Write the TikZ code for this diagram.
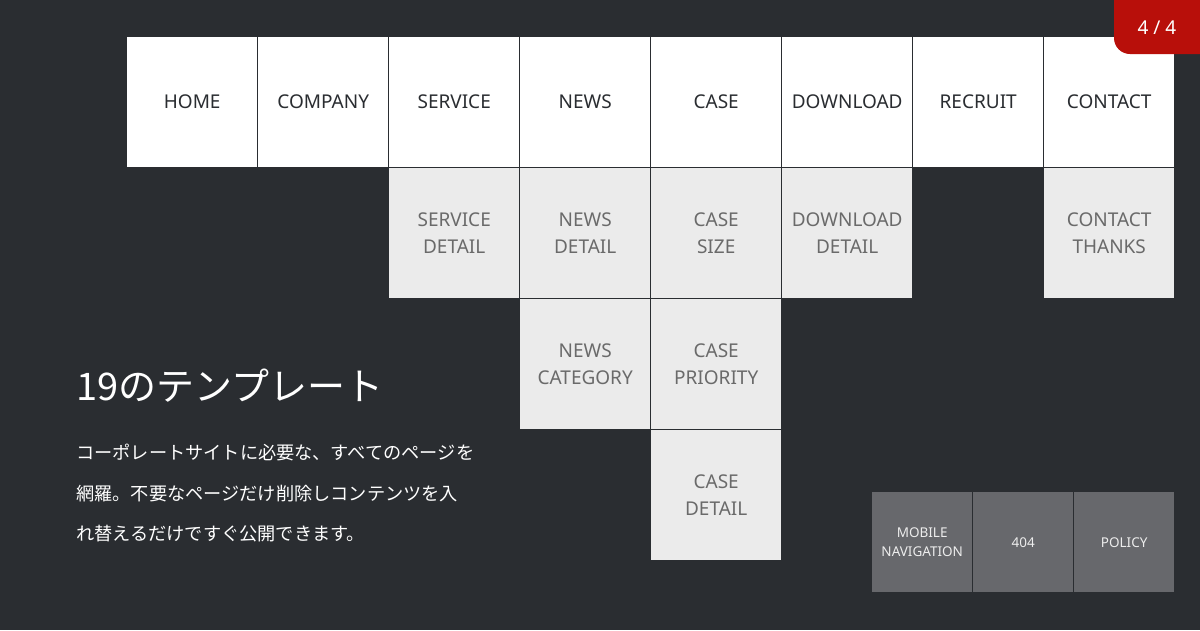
\documentclass[tikz,border=0pt]{standalone}
\usepackage{fontspec}
\setmainfont{Noto Sans}
\newfontfamily\jpfont{Noto Sans CJK JP}
\definecolor{bgdark}{HTML}{2A2D31}
\definecolor{cellgray}{HTML}{EBEBEB}
\definecolor{graytext}{HTML}{6A6A6A}
\definecolor{darkcell}{HTML}{67686C}
\definecolor{badgered}{HTML}{B80F0A}
\definecolor{darktext}{HTML}{2A2D31}
\tikzset{
  topcell/.style={fill=white, anchor=north west, minimum width=130pt, minimum height=130pt, inner sep=0pt, align=center, text=darktext, font=\fontsize{19}{27}\selectfont},
  subcell/.style={fill=cellgray, anchor=north west, minimum width=130pt, minimum height=130pt, inner sep=0pt, align=center, text=graytext, font=\fontsize{19}{27}\selectfont},
  smallcell/.style={fill=darkcell, anchor=north west, minimum width=100pt, minimum height=100pt, inner sep=0pt, align=center, text=white!93!black, font=\fontsize{13.5}{19}\selectfont},
  jpline/.style={anchor=base west, inner sep=0pt, text=white, font=\jpfont\fontsize{18.2}{20}\selectfont}
}
\begin{document}
\begin{tikzpicture}[x=1pt,y=-1pt]
\useasboundingbox (0,0) rectangle (1200,630);
\fill[bgdark] (0,0) rectangle (1200,630);
% top row
\node[topcell] (home) at (127,37) {HOME};
\node[topcell] (company) at (258,37) {COMPANY};
\node[topcell] (service) at (389,37) {SERVICE};
\node[topcell] (news) at (520,37) {NEWS};
\node[topcell] (case) at (651,37) {CASE};
\node[topcell] (download) at (782,37) {DOWNLOAD};
\node[topcell] (recruit) at (913,37) {RECRUIT};
\node[topcell] (contact) at (1044,37) {CONTACT};
% second row
\node[subcell] (servicedetail) at (389,168) {SERVICE\\DETAIL};
\node[subcell] (newsdetail) at (520,168) {NEWS\\DETAIL};
\node[subcell] (casesize) at (651,168) {CASE\\SIZE};
\node[subcell] (downloaddetail) at (782,168) {DOWNLOAD\\DETAIL};
\node[subcell] (contactthanks) at (1044,168) {CONTACT\\THANKS};
% third row
\node[subcell] (newscategory) at (520,299) {NEWS\\CATEGORY};
\node[subcell] (casepriority) at (651,299) {CASE\\PRIORITY};
% fourth row
\node[subcell] (casedetail) at (651,430) {CASE\\DETAIL};
% bottom right
\node[smallcell] (mobile) at (872,492) {MOBILE\\NAVIGATION};
\node[smallcell] (notfound) at (973,492) {404};
\node[smallcell] (policy) at (1074,492) {POLICY};
% text
\node[anchor=base west, inner sep=0pt, text=white, font=\jpfont\fontsize{38}{42}\selectfont] (title) at (76,400) {19のテンプレート};
\node[jpline] (line1) at (76,459) {コーポレートサイトに必要な、すべてのページを};
\node[jpline] (line2) at (76,500) {網羅。不要なページだけ削除しコンテンツを入};
\node[jpline] (line3) at (76,540) {れ替えるだけですぐ公開できます。};
% badge (on top)
\begin{scope}
\clip (0,0) rectangle (1200,630);
\fill[badgered, rounded corners=16pt] (1114,-30) rectangle (1230,54);
\end{scope}
\node[text=white, font=\fontsize{19}{20}\selectfont, inner sep=0pt] (badge) at (1157,28) {4 / 4};
\end{tikzpicture}
\end{document}
